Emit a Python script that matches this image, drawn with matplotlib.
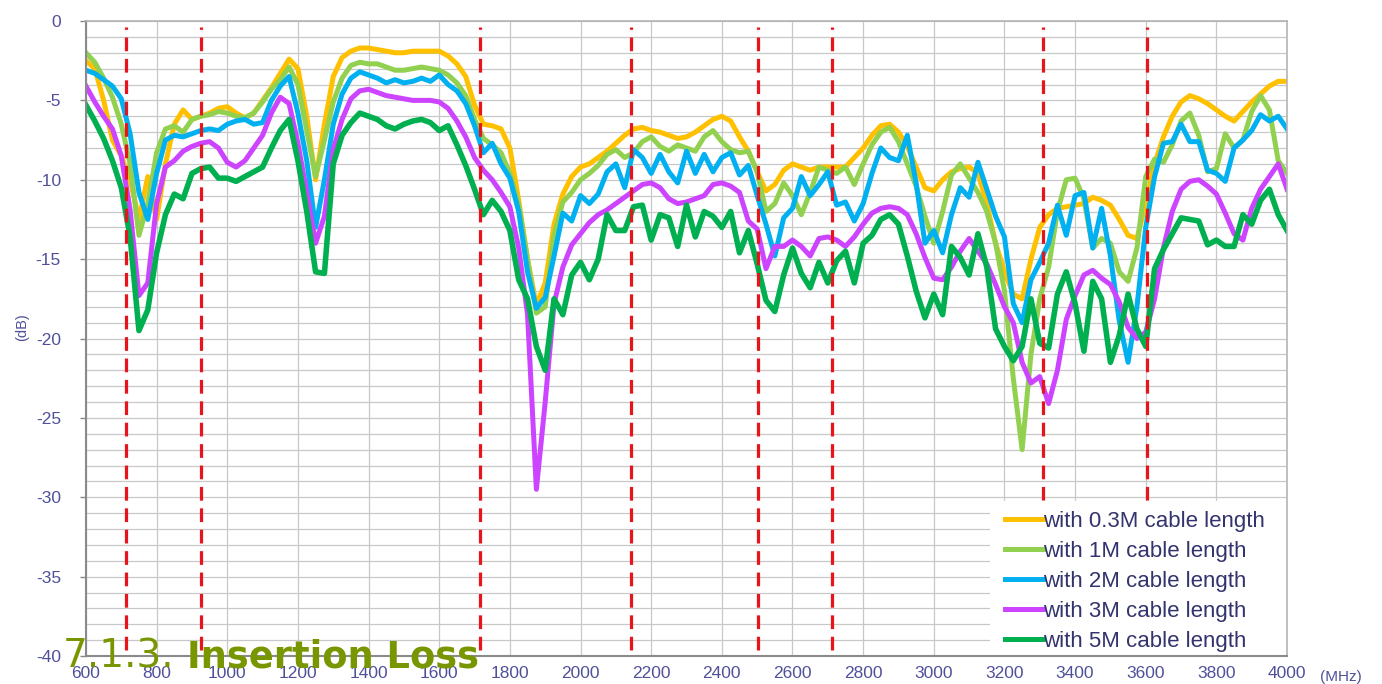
import numpy as np
import matplotlib
matplotlib.use('Agg')
import matplotlib.pyplot as plt
from matplotlib.patches import Rectangle

# Insertion loss vs. frequency for different cable lengths (25 MHz steps)
freq = np.arange(600, 4001, 25)

loss_03m = [-2.5, -3.0, -5.0, -7.5, -8.5, -10.0, -12.5, -9.8,
            -12.5, -9.0, -6.5, -5.6, -6.2, -6.0, -5.8, -5.5,
            -5.4, -5.8, -6.1, -5.8, -5.0, -4.2, -3.3, -2.4,
            -3.0, -6.0, -10.0, -6.5, -3.5, -2.3, -1.9, -1.7,
            -1.7, -1.8, -1.9, -2.0, -2.0, -1.9, -1.9, -1.9,
            -1.9, -2.2, -2.7, -3.5, -5.3, -6.5, -6.6, -6.8,
            -8.0, -11.3, -15.0, -17.9, -16.5, -12.8, -10.9, -9.8,
            -9.2, -9.0, -8.6, -8.2, -7.7, -7.2, -6.8, -6.7,
            -6.9, -7.0, -7.2, -7.4, -7.3, -7.0, -6.6, -6.2,
            -6.0, -6.3, -7.3, -8.2, -9.5, -10.7, -10.3, -9.4,
            -9.0, -9.2, -9.4, -9.2, -9.2, -9.2, -9.2, -8.6,
            -8.0, -7.2, -6.6, -6.5, -7.0, -7.9, -9.2, -10.5,
            -10.7, -10.0, -9.5, -9.3, -9.2, -9.6, -11.5, -14.0,
            -15.8, -17.2, -17.5, -15.0, -13.0, -12.2, -11.8, -11.7,
            -11.6, -11.5, -11.1, -11.3, -11.6, -12.5, -13.5, -13.7,
            -11.5, -9.0, -7.3, -6.0, -5.1, -4.7, -4.9, -5.2,
            -5.6, -6.0, -6.3, -5.7, -5.1, -4.6, -4.1, -3.8,
            -3.8]

loss_1m = [-2.0, -2.6, -3.6, -4.8, -6.5, -9.0, -13.5, -11.5,
           -8.3, -6.8, -6.6, -7.0, -6.2, -6.0, -5.9, -5.7,
           -5.8, -6.0, -6.1, -5.8, -5.1, -4.3, -3.7, -2.9,
           -4.0, -6.9, -9.8, -7.5, -5.1, -3.6, -2.8, -2.6,
           -2.7, -2.7, -2.9, -3.1, -3.1, -3.0, -2.9, -3.0,
           -3.1, -3.4, -3.9, -4.7, -6.2, -7.4, -7.8, -8.3,
           -9.6, -11.6, -15.0, -18.4, -18.0, -13.5, -11.4, -10.8,
           -10.0, -9.6, -9.1, -8.4, -8.1, -8.6, -8.3, -7.6,
           -7.3, -7.9, -8.2, -7.8, -8.0, -8.2, -7.3, -6.9,
           -7.6, -8.1, -8.3, -8.2, -9.5, -12.0, -11.5, -10.2,
           -11.0, -12.2, -10.8, -9.2, -9.4, -9.6, -9.2, -10.3,
           -9.0, -7.8, -7.0, -6.7, -7.6, -9.0, -10.4, -12.3,
           -14.0, -12.0, -9.7, -9.0, -9.9, -10.8, -12.0, -14.0,
           -17.0, -22.5, -27.0, -21.0, -17.5, -15.5, -12.0, -10.0,
           -9.9, -11.2, -14.3, -13.7, -14.0, -15.8, -16.4, -14.3,
           -9.8, -8.7, -8.9, -7.8, -6.3, -5.8, -7.2, -9.5,
           -9.3, -7.1, -8.0, -7.5, -5.7, -4.7, -5.6, -8.8,
           -9.6]

loss_2m = [-3.1, -3.3, -3.7, -4.1, -4.9, -7.1, -10.8, -12.5,
           -9.6, -7.5, -7.2, -7.3, -7.1, -6.9, -6.8, -6.9,
           -6.5, -6.3, -6.2, -6.5, -6.4, -5.0, -4.1, -3.5,
           -5.8, -8.8, -13.0, -10.0, -6.5, -4.6, -3.6, -3.2,
           -3.4, -3.6, -3.9, -3.7, -3.9, -3.8, -3.6, -3.8,
           -3.4, -4.0, -4.4, -5.2, -6.6, -8.3, -7.7, -9.0,
           -9.9, -12.0, -15.8, -18.1, -17.4, -14.8, -12.1, -12.6,
           -11.0, -11.5, -10.9, -9.5, -9.0, -10.5, -8.1, -8.6,
           -9.6, -8.4, -9.5, -10.2, -8.2, -9.6, -8.4, -9.5,
           -8.6, -8.3, -9.7, -9.1, -11.0, -12.8, -14.8, -12.4,
           -11.8, -9.8, -11.0, -10.3, -9.5, -11.6, -11.4, -12.6,
           -11.5, -9.6, -8.0, -8.6, -8.8, -7.2, -10.2, -14.0,
           -13.2, -14.6, -12.2, -10.5, -11.1, -8.9, -10.6, -12.3,
           -13.6, -17.8, -19.0, -16.3, -15.2, -14.0, -11.6, -13.5,
           -11.0, -10.8, -14.3, -11.8, -14.8, -18.9, -21.5, -18.0,
           -13.0, -9.8, -7.7, -7.6, -6.5, -7.6, -7.6, -9.4,
           -9.6, -10.1, -8.0, -7.5, -6.9, -5.9, -6.3, -6.0,
           -6.8]

loss_3m = [-4.1, -5.1, -6.0, -6.8, -8.5, -11.9, -17.3, -16.5,
           -11.5, -9.2, -8.8, -8.2, -7.9, -7.7, -7.6, -8.0,
           -8.9, -9.2, -8.8, -8.0, -7.2, -5.8, -4.8, -5.2,
           -7.7, -10.8, -14.0, -12.3, -8.1, -6.2, -4.9, -4.4,
           -4.3, -4.5, -4.7, -4.8, -4.9, -5.0, -5.0, -5.0,
           -5.1, -5.5, -6.3, -7.3, -8.6, -9.4, -10.0, -10.8,
           -11.7, -14.3, -18.5, -29.5, -24.0, -17.8, -15.5, -14.1,
           -13.4, -12.7, -12.2, -11.9, -11.5, -11.1, -10.7, -10.3,
           -10.2, -10.5, -11.2, -11.5, -11.4, -11.2, -11.0, -10.3,
           -10.2, -10.4, -10.8, -12.6, -13.1, -15.6, -14.2, -14.2,
           -13.8, -14.2, -14.8, -13.7, -13.6, -13.8, -14.2, -13.6,
           -12.8, -12.1, -11.8, -11.7, -11.8, -12.2, -13.4, -14.9,
           -16.2, -16.3, -15.5, -14.5, -13.7, -14.5, -15.3, -16.6,
           -18.0, -19.0, -21.5, -22.8, -22.4, -24.1, -22.0, -18.8,
           -17.3, -16.0, -15.7, -16.2, -16.6, -17.7, -19.3, -20.0,
           -19.6, -17.5, -14.3, -12.0, -10.6, -10.1, -10.0, -10.4,
           -10.9, -12.1, -13.4, -13.8, -11.8, -10.6, -9.8, -9.0,
           -10.6]

loss_5m = [-5.3, -6.3, -7.4, -8.8, -10.5, -13.6, -19.5, -18.2,
           -14.6, -12.2, -10.9, -11.2, -9.6, -9.3, -9.2, -9.9,
           -9.9, -10.1, -9.8, -9.5, -9.2, -8.0, -6.9, -6.2,
           -8.8, -12.0, -15.8, -15.9, -9.0, -7.2, -6.4, -5.8,
           -6.0, -6.2, -6.6, -6.8, -6.5, -6.3, -6.2, -6.4,
           -6.9, -6.6, -7.8, -9.1, -10.6, -12.2, -11.3, -12.0,
           -13.2, -16.3, -17.5, -20.5, -22.0, -17.5, -18.5, -16.0,
           -15.2, -16.3, -15.0, -12.2, -13.2, -13.2, -11.7, -11.6,
           -13.8, -12.2, -12.4, -14.2, -11.6, -13.6, -12.0, -12.3,
           -13.0, -12.0, -14.6, -13.2, -15.3, -17.6, -18.3, -16.0,
           -14.3, -15.9, -16.8, -15.2, -16.5, -15.1, -14.5, -16.5,
           -14.0, -13.5, -12.5, -12.2, -12.8, -14.8, -17.0, -18.7,
           -17.2, -18.5, -14.2, -14.9, -16.0, -13.4, -15.5, -19.4,
           -20.5, -21.4, -20.5, -17.5, -20.3, -20.6, -17.2, -15.8,
           -17.8, -20.8, -16.4, -17.5, -21.5, -19.8, -17.2, -19.4,
           -20.5, -15.6, -14.4, -13.4, -12.4, -12.5, -12.6, -14.1,
           -13.8, -14.2, -14.2, -12.2, -12.8, -11.3, -10.6, -12.2,
           -13.2]

labels = ['with 0.3M cable length', 'with 1M cable length',
          'with 2M cable length', 'with 3M cable length',
          'with 5M cable length']
colors = ['#FFC000', '#92D050', '#00B0F0', '#CC44FF', '#00B050']

# band edges marked with red dashed lines (MHz)
band_edges = [712, 927, 1716, 2142, 2503, 2712, 3308, 3604]

x_ticks = np.arange(600, 4001, 200)
y_ticks = np.arange(-40, 1, 5)

label_color = '#50509a'
plt.rcParams['font.family'] = ['Liberation Sans', 'DejaVu Sans']
plt.rcParams['axes.unicode_minus'] = False

fig = plt.figure(figsize=(13.82, 6.84), dpi=100)
ax = fig.add_axes([0.0622, 0.0409, 0.8691, 0.9284])

series = [loss_03m, loss_1m, loss_2m, loss_3m, loss_5m]
for i, (vals, lab, col) in enumerate(zip(series, labels, colors)):
    lw = 4.0 if i == 4 else 3.6
    ax.plot(freq, vals, color=col, lw=lw, label=lab, zorder=2 + i,
            solid_joinstyle='round')

ax.vlines(band_edges, -39.6, -0.4, colors='#E8141C', lw=2.3,
          linestyles=(0, (4.3, 2.4)), zorder=10)

ax.set_xlim(600, 4000)
ax.set_ylim(-40, 0)
ax.set_xticks(x_ticks)
ax.set_yticks(y_ticks)
ax.set_yticks(np.arange(-40, 1, 1), minor=True)
ax.grid(True, which='both', axis='y', color='#c8c8c8', lw=0.9, zorder=0)
ax.grid(True, which='major', axis='x', color='#c8c8c8', lw=0.9, zorder=0)
ax.tick_params(axis='y', which='minor', length=0)
ax.tick_params(axis='y', which='major', length=4, width=1, color='#888888',
               pad=14, labelsize=12.5, labelcolor=label_color)
ax.tick_params(axis='x', which='major', length=0, pad=7,
               labelsize=12.5, labelcolor=label_color)

for side in ['left', 'bottom']:
    ax.spines[side].set_color('#8a8a8a')
    ax.spines[side].set_linewidth(1.5)
for side in ['top', 'right']:
    ax.spines[side].set_color('#b4b4b4')
    ax.spines[side].set_linewidth(1.2)
for sp in ax.spines.values():
    sp.set_zorder(25)

ax.text(1.045, -0.033, '(MHz)', transform=ax.transAxes, fontsize=11,
        color=label_color, ha='center', va='center')
fig.text(0.016, 0.522, '(dB)', rotation=90, fontsize=10.5,
         color=label_color, ha='center', va='center')

# white block behind the legend, reaching the right and bottom spines
ax.add_patch(Rectangle((0.753, 0.0), 0.247, 0.241, transform=ax.transAxes,
                       facecolor='white', edgecolor='none', zorder=15))

leg = ax.legend(loc='lower right', bbox_to_anchor=(0.990, -0.009),
                borderaxespad=0.0, fontsize=16, handlelength=1.7,
                handletextpad=0.0, labelspacing=0.4, borderpad=0.45,
                frameon=True, fancybox=False, framealpha=1.0)
leg.get_frame().set_edgecolor('white')
leg.get_frame().set_facecolor('white')
for t in leg.get_texts():
    t.set_color('#33336e')
for h in leg.get_lines():
    h.set_linewidth(3.6)
leg.set_zorder(20)

fig.text(63 / 1382, 1 - 668 / 684, '7.1.3.', fontsize=28, color='#789600',
         family='DejaVu Sans', va='baseline', ha='left', zorder=30)
fig.text(187 / 1382, 1 - 668 / 684, 'Insertion Loss', fontsize=26.5,
         color='#789600', family='DejaVu Sans', fontweight='bold',
         va='baseline', ha='left', zorder=30)

fig.savefig('out.png', dpi=100, facecolor='white')
